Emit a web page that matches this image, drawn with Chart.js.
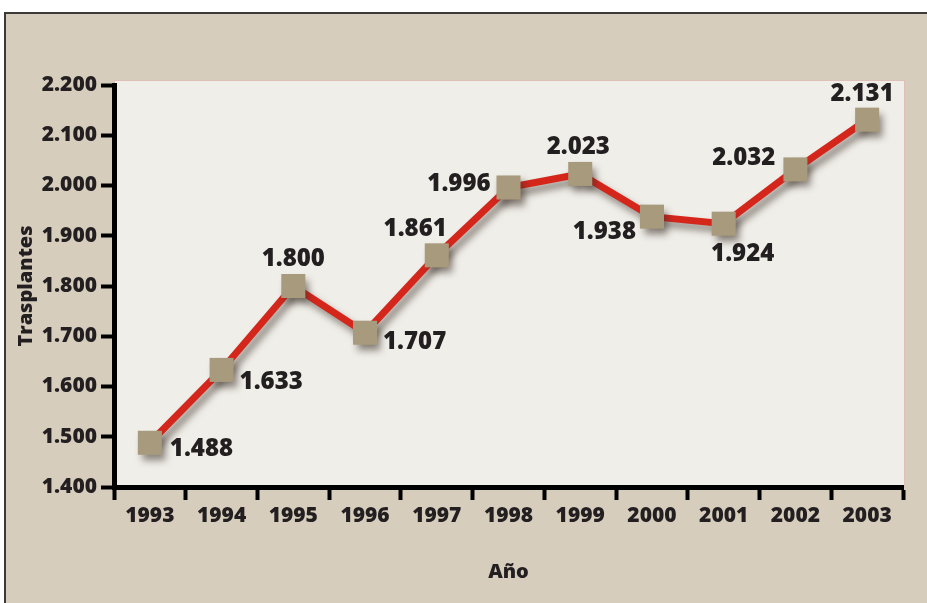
<!DOCTYPE html>
<html>
<head>
<meta charset="utf-8">
<script src="https://cdn.jsdelivr.net/npm/chart.js@4.4.0/dist/chart.umd.min.js"></script>
<style>
html,body{margin:0;padding:0;background:#d6cdbd;overflow:hidden;}
#wrap{width:927px;height:603px;position:relative;overflow:hidden;}
canvas{display:block;}
</style>
</head>
<body>
<div id="wrap"><canvas id="c" width="927" height="603"></canvas></div>
<script>
// ---- data ----
const years = ['1993','1994','1995','1996','1997','1998','1999','2000','2001','2002','2003'];
const trasplantes = [1488, 1633, 1800, 1707, 1861, 1996, 2023, 1938, 1924, 2032, 2131];
const yTicks = [1400, 1500, 1600, 1700, 1800, 1900, 2000, 2100, 2200];
const yTitle = 'Trasplantes';
const xTitle = 'Año';

// ---- styling (not data) ----
const labelPlacement = [
  {dx: 20, dy: 6, align: 'left'},
  {dx: 18, dy: 12, align: 'left'},
  {dx: 0, dy: -27, align: 'center'},
  {dx: 18, dy: 9, align: 'left'},
  {dx: 10, dy: -26, align: 'right'},
  {dx: -18, dy: -3, align: 'right'},
  {dx: -2, dy: -27, align: 'center'},
  {dx: -16, dy: 16, align: 'right'},
  {dx: 19, dy: 30, align: 'center'},
  {dx: -20, dy: -11, align: 'right'},
  {dx: -5, dy: -26, align: 'center'}
];
const FONT = '"Open Sans", "DejaVu Sans", sans-serif';
const TEXT = '#231f20';
const WEIGHT = '800';

function fmt(v){
  const s = String(Math.round(v));
  return s.replace(/\B(?=(\d{3})+(?!\d))/g, '.');
}

const backgroundPlugin = {
  id: 'bg',
  beforeDraw(chart){
    const ctx = chart.ctx, a = chart.chartArea;
    ctx.save();
    ctx.fillStyle = '#ffffff';
    ctx.fillRect(0, 0, chart.width, chart.height);
    ctx.fillStyle = '#d6cdbd';
    ctx.fillRect(4, 12, chart.width, chart.height);
    ctx.strokeStyle = '#3c3a38';
    ctx.lineWidth = 2;
    ctx.beginPath();
    ctx.moveTo(5, chart.height + 5);
    ctx.lineTo(5, 13);
    ctx.lineTo(chart.width + 5, 13);
    ctx.stroke();
    ctx.fillStyle = '#f0eee9';
    ctx.fillRect(a.left, a.top - 5, a.right - a.left + 2, a.bottom - a.top + 5);
    ctx.strokeStyle = 'rgba(210,160,150,0.6)';
    ctx.lineWidth = 1;
    ctx.strokeRect(a.left + 0.5, a.top - 4.5, a.right - a.left + 1, a.bottom - a.top + 4);
    ctx.restore();
  }
};

const shadowPlugin = {
  id: 'shadow',
  beforeDatasetsDraw(chart){
    const ctx = chart.ctx;
    ctx.save();
    ctx.shadowColor = 'rgba(60,50,40,0.55)';
    ctx.shadowBlur = 7;
    ctx.shadowOffsetX = 4;
    ctx.shadowOffsetY = 6;
  },
  afterDatasetsDraw(chart){
    chart.ctx.restore();
  }
};

const labelPlugin = {
  id: 'valueLabels',
  afterDatasetsDraw(chart){
    const ctx = chart.ctx;
    const meta = chart.getDatasetMeta(0);
    const data = chart.data.datasets[0].data;
    ctx.save();
    ctx.font = WEIGHT + ' 24px ' + FONT;
    ctx.fillStyle = TEXT;
    ctx.textBaseline = 'middle';
    meta.data.forEach((pt, i) => {
      const p = labelPlacement[i];
      ctx.textAlign = p.align;
      ctx.fillText(fmt(data[i]), pt.x + p.dx, pt.y + p.dy);
    });
    ctx.restore();
  }
};

new Chart(document.getElementById('c'), {
  type: 'line',
  data: {
    labels: years,
    datasets: [{
      data: trasplantes,
      borderColor: '#d5261c',
      borderWidth: 7,
      tension: 0,
      pointStyle: 'rect',
      pointRadius: 17,
      pointHoverRadius: 17,
      pointBackgroundColor: '#a89a7c',
      pointBorderColor: '#a89a7c',
      pointBorderWidth: 0
    }]
  },
  options: {
    responsive: false,
    animation: false,
    events: [],
    layout: { padding: { left: 0, top: 85, right: 24, bottom: 0 } },
    plugins: { legend: { display: false }, tooltip: { enabled: false } },
    scales: {
      x: {
        type: 'category',
        offset: true,
        afterFit(scale){ scale.height = 116; },
        border: { display: true, color: '#000', width: 5 },
        grid: {
          offset: true,
          drawOnChartArea: false,
          drawTicks: true,
          tickLength: 13,
          tickWidth: 4,
          color: '#000'
        },
        ticks: {
          color: TEXT,
          padding: 3,
          maxRotation: 0,
          font: { family: FONT, weight: WEIGHT, size: 21 }
        },
        title: {
          display: true,
          text: xTitle,
          color: TEXT,
          padding: { top: 0, bottom: 19 },
          font: { family: FONT, weight: WEIGHT, size: 20 }
        }
      },
      y: {
        min: yTicks[0],
        max: yTicks[yTicks.length - 1],
        afterFit(scale){ scale.width = 114; },
        afterBuildTicks(scale){ scale.ticks = yTicks.map(v => ({ value: v })); },
        border: { display: true, color: '#000', width: 5 },
        grid: {
          drawOnChartArea: false,
          drawTicks: true,
          tickLength: 13,
          tickWidth: 4,
          color: '#000'
        },
        ticks: {
          color: TEXT,
          padding: 4,
          font: { family: FONT, weight: WEIGHT, size: 21 },
          callback: (v) => fmt(v)
        },
        title: {
          display: true,
          text: yTitle,
          color: TEXT,
          padding: { top: 14, bottom: 0 },
          font: { family: FONT, weight: WEIGHT, size: 20 }
        }
      }
    }
  },
  plugins: [backgroundPlugin, shadowPlugin, labelPlugin]
});
</script>
</body>
</html>
